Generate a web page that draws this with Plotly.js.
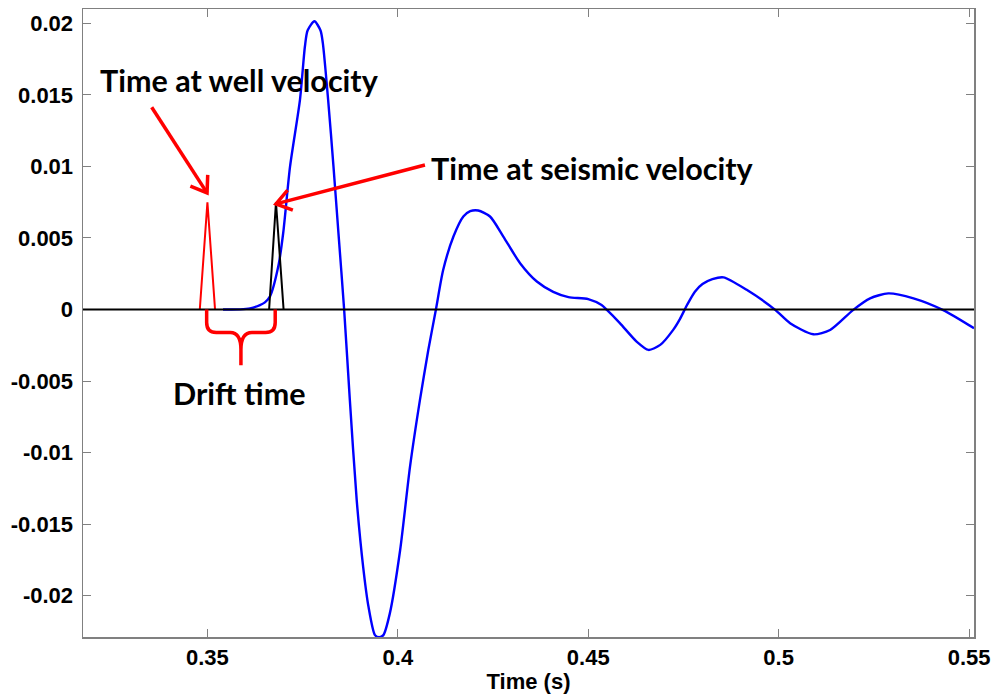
<!DOCTYPE html>
<html>
<head>
<meta charset="utf-8">
<script src="https://cdn.plot.ly/plotly-3.0.1.min.js"></script>
<style>html,body{margin:0;padding:0;background:#fff;}#chart{width:996px;height:694px;}</style>
</head>
<body>
<div id="chart"></div>
<script>
// Blue wavelet (time in s, amplitude)
const time = [0.3541, 0.3586, 0.3612, 0.3638, 0.3651, 0.3664, 0.3686, 0.3699, 0.3717, 0.3743, 0.3756, 0.3763, 0.3781, 0.3797, 0.3803, 0.3817, 0.3831, 0.3844, 0.3859, 0.3874, 0.3892, 0.3909, 0.3923, 0.3940, 0.3951, 0.3962, 0.3979, 0.4006, 0.4032, 0.4058, 0.4080, 0.4100, 0.4119, 0.4146, 0.4172, 0.4190, 0.4211, 0.4242, 0.4277, 0.4321, 0.4365, 0.4408, 0.4448, 0.4500, 0.4535, 0.4549, 0.4583, 0.4627, 0.4658, 0.4689, 0.4723, 0.4741, 0.4760, 0.4780, 0.4800, 0.4826, 0.4855, 0.4916, 0.4991, 0.5030, 0.5091, 0.5135, 0.5196, 0.5240, 0.5288, 0.5354, 0.5432, 0.5513];
const amplitude = [0, 0.00001, 0.00008, 0.00031, 0.0005, 0.0009, 0.0030, 0.00535, 0.0100, 0.01465, 0.01838, 0.0195, 0.02014, 0.0195, 0.01863, 0.01465, 0.0100, 0.00536, 0, -0.00633, -0.01332, -0.01799, -0.02077, -0.02275, -0.0229, -0.02275, -0.02123, -0.01682, -0.01098, -0.00633, -0.00283, 0, 0.00276, 0.0051, 0.0065, 0.00687, 0.00692, 0.0065, 0.0051, 0.00324, 0.00196, 0.00124, 0.00087, 0.00073, 0.00031, -0.00003, -0.00095, -0.00224, -0.00282, -0.00247, -0.00142, -0.00065, 0.00035, 0.00125, 0.00178, 0.00212, 0.00225, 0.00138, -0.00002, -0.00095, -0.00173, -0.00143, -0.00002, 0.00078, 0.00113, 0.00078, -0.00004, -0.00131];

// Spikes
const wellTime = [0.348, 0.350, 0.352];
const wellAmp = [0, 0.0075, 0];
const seisTime = [0.3662, 0.3680, 0.3700];
const seisAmp = [0, 0.0075, 0];

// Axis ticks
const xTicks = [0.35, 0.4, 0.45, 0.5, 0.55];
const xTickText = ['0.35', '0.4', '0.45', '0.5', '0.55'];
const yTicks = [-0.02, -0.015, -0.01, -0.005, 0, 0.005, 0.01, 0.015, 0.02];
const yTickText = ['-0.02', '-0.015', '-0.01', '-0.005', '0', '0.005', '0.01', '0.015', '0.02'];

// Labels
const labelTexts = ['Time at well velocity', 'Time at seismic velocity', 'Drift time'];
const labelX = [0.3583, 0.4510, 0.3584];
const labelY = [0.01605, 0.0099, -0.00584];

// Arrows: tail -> head
const arrowTailX = [0.33537, 0.40712];
const arrowTailY = [0.01414, 0.01010];
const arrowHeadX = [0.3499, 0.3680];
const arrowHeadY = [0.00815, 0.00738];

const xRange = [0.31733, 0.55129];
const yRange = [-0.02288, 0.0210];
const M = {l: 83, r: 22, t: 9, b: 57};
const W = 996, H = 694;
const sx = (W - M.l - M.r) / (xRange[1] - xRange[0]);
const sy = (H - M.t - M.b) / (yRange[1] - yRange[0]);

function chevron(tx, ty, hx, hy, len, angDeg) {
  const dx = (hx - tx) * sx, dy = -(hy - ty) * sy;
  const n = Math.hypot(dx, dy);
  const ux = dx / n, uy = dy / n;
  const a = angDeg * Math.PI / 180;
  const pts = [];
  for (const s of [1, -1]) {
    const c = Math.cos(s * a), si = Math.sin(s * a);
    const rx = ux * c - uy * si, ry = ux * si + uy * c;
    pts.push([hx - rx * len / sx, hy + ry * len / sy]);
  }
  return 'M' + pts[0][0] + ',' + pts[0][1] + ' L' + hx + ',' + hy + ' L' + pts[1][0] + ',' + pts[1][1];
}

const traces = [
  {x: time, y: amplitude, type: 'scatter', mode: 'lines', line: {color: '#0000ff', width: 2.4, shape: 'spline', smoothing: 0.7}, hoverinfo: 'skip'},
  {x: wellTime, y: wellAmp, type: 'scatter', mode: 'lines', line: {color: '#ff0000', width: 2}, hoverinfo: 'skip'},
  {x: seisTime, y: seisAmp, type: 'scatter', mode: 'lines', line: {color: '#000000', width: 2}, hoverinfo: 'skip'}
];

const shapes = [
  {type: 'line', xref: 'paper', yref: 'y', x0: 0, x1: 1, y0: 0, y1: 0, line: {color: '#000', width: 2}, layer: 'above'},
  {type: 'path', xref: 'x', yref: 'y', layer: 'above',
   path: 'M0.3498,0 L0.3498,-0.0009 Q0.3498,-0.0016 0.3523,-0.0016 L0.3560,-0.0016 Q0.3588,-0.0016 0.3588,-0.0028 L0.3588,-0.0039 M0.3588,-0.0028 Q0.3588,-0.0016 0.3617,-0.0016 L0.3653,-0.0016 Q0.3678,-0.0016 0.3678,-0.0009 L0.3678,0',
   line: {color: '#ff0000', width: 3.5}}
];
for (let i = 0; i < arrowTailX.length; i++) {
  shapes.push({type: 'line', xref: 'x', yref: 'y', x0: arrowTailX[i], y0: arrowTailY[i], x1: arrowHeadX[i], y1: arrowHeadY[i], line: {color: '#ff0000', width: 3.5}, layer: 'above'});
  shapes.push({type: 'path', xref: 'x', yref: 'y', path: chevron(arrowTailX[i], arrowTailY[i], arrowHeadX[i], arrowHeadY[i], 18, 35), line: {color: '#ff0000', width: 3.5}, layer: 'above'});
}

const annotations = labelTexts.map((t, i) => ({
  text: t, x: labelX[i], y: labelY[i], xref: 'x', yref: 'y', showarrow: false,
  xanchor: 'center', yanchor: 'middle',
  font: {family: 'Lato, Carlito, sans-serif', size: 30.5, weight: 'bold', color: '#000'}
}));

const axisCommon = {
  showline: true, mirror: 'ticks', linecolor: '#808080', linewidth: 1.5,
  ticks: 'inside', ticklen: 8, tickcolor: '#808080', tickwidth: 1,
  showgrid: false, zeroline: false,
  tickfont: {family: 'Liberation Sans, Arial, sans-serif', size: 22, weight: 'bold', color: '#000'}
};

const layout = {
  width: W, height: H,
  margin: M,
  paper_bgcolor: '#fff', plot_bgcolor: '#fff',
  showlegend: false,
  xaxis: Object.assign({}, axisCommon, {range: xRange, tickvals: xTicks, ticktext: xTickText,
    title: {text: 'Time (s)', font: {family: 'Liberation Sans, Arial, sans-serif', size: 22, weight: 'bold', color: '#000'}, standoff: 1}}),
  yaxis: Object.assign({}, axisCommon, {range: yRange, tickvals: yTicks, ticktext: yTickText, ticklabelstandoff: 4}),
  shapes: shapes,
  annotations: annotations
};

Plotly.newPlot('chart', traces, layout, {staticPlot: true, displayModeBar: false});
</script>
</body>
</html>
